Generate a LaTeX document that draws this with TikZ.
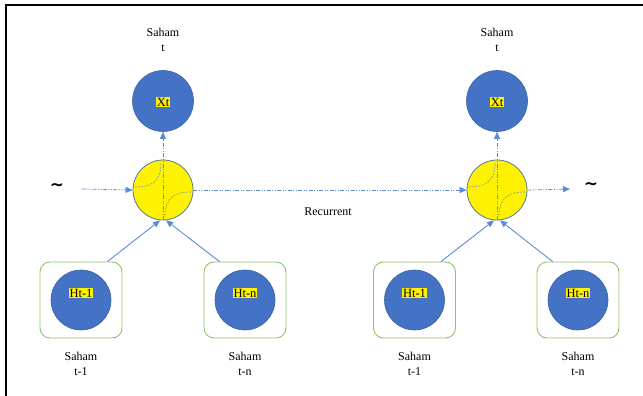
\documentclass[tikz,border=0pt]{standalone}
\usepackage{fontspec}
\setmainfont{Liberation Serif}
\newfontfamily\markfont{DejaVu Sans}
\usetikzlibrary{arrows.meta,calc}

\definecolor{cellblue}{HTML}{4472C4}
\definecolor{celledge}{HTML}{3A62A8}
\definecolor{gateedge}{HTML}{5A7896}
\definecolor{flowblue}{HTML}{5B8BD6}
\definecolor{boxgreen}{HTML}{8CC46A}
\definecolor{curvegray}{HTML}{8A9AAA}

\tikzset{
  txt/.style={font=\fontsize{12}{15}\selectfont, align=center, inner sep=0pt},
  bluecell/.style={circle, fill=cellblue, draw=celledge, line width=0.6pt, minimum size=61pt, inner sep=0pt},
  gate/.style={circle, fill=yellow, draw=gateedge, line width=0.8pt, minimum size=60pt, inner sep=0pt},
  statebox/.style={draw=boxgreen, line width=0.9pt, rounded corners=10pt, minimum width=82pt, minimum height=76pt, inner sep=0pt},
  tag/.style={fill=yellow, font=\fontsize{12.5}{14}\selectfont, inner sep=0.6pt},
  tip/.style={-{Triangle[length=7pt,width=6pt]}},
  flow/.style={draw=flowblue, line width=0.8pt, dash pattern=on 4pt off 1.5pt on 1pt off 1.5pt on 1pt off 1.5pt, tip},
  feed/.style={draw=flowblue, line width=0.9pt, tip},
  inner/.style={draw=curvegray, line width=0.7pt, dash pattern=on 2pt off 1.2pt},
  tildemark/.style={font=\markfont\bfseries\fontsize{17}{17}\selectfont, inner sep=0pt}
}

\begin{document}
\begin{tikzpicture}[x=1pt, y=-1pt]
  \useasboundingbox (0,0) rectangle (643,396);

  % frame edges
  \draw[black, line width=1.6pt] (6,396) -- (6,5) -- (643,5);

  % one time step drawn at each horizontal offset
  \foreach \cx/\ax/\bx/\sfx in {163/81/245/l, 497/414.5/578/r} {
    \node[bluecell] (x\sfx) at (\cx,101) {};
    \node[tag] (xt\sfx) at (\cx,102) {Xt};
    \node[txt] (sx\sfx) at (\cx,40) {Saham\\t};

    \node[gate] (g\sfx) at (\cx,190) {};
    \draw[inner] ($(g\sfx.center)+(-28,-3)$) .. controls ($(g\sfx.center)+(-12,-3)$) and ($(g\sfx.center)+(-2,-8)$) .. ($(g\sfx.center)+(-2,-27)$);
    \draw[inner] ($(g\sfx.center)+(28,2)$) .. controls ($(g\sfx.center)+(12,2)$) and ($(g\sfx.center)+(2,7)$) .. ($(g\sfx.center)+(2,27)$);
    \draw[flow] (g\sfx.south) -- (x\sfx.south);

    \node[statebox] (ba\sfx) at (\ax,300) {};
    \node[bluecell, minimum size=60pt] (ha\sfx) at (\ax,300) {};
    \node[tag] (hta\sfx) at (\ax,293) {Ht-1};
    \node[txt] (sa\sfx) at (\ax,364) {Saham\\t-1};

    \node[statebox] (bb\sfx) at (\bx,300) {};
    \node[bluecell, minimum size=60pt] (hb\sfx) at (\bx,300) {};
    \node[tag] (htb\sfx) at (\bx,293) {Ht-n};
    \node[txt] (sb\sfx) at (\bx,364) {Saham\\t-n};

    \draw[feed] ([xshift=-15pt]ba\sfx.north east) -- ([xshift=-3pt]g\sfx.south);
    \draw[feed] ([xshift=16pt]bb\sfx.north west) -- ([xshift=3pt]g\sfx.south);
  }

  % sequence continues on both sides
  \node[tildemark] (tl) at (57,187) {\char`\~};
  \node[tildemark] (tr) at (591,186) {\char`\~};
  \coordinate (inl) at (82,189);
  \coordinate (outr) at (570,189);

  \draw[flow] (inl) -- (gl.west);
  \draw[flow] (gl.east) -- (gr.west);
  \draw[flow] (gr.east) -- (outr);

  \node[txt] (rec) at (328,212) {Recurrent};
\end{tikzpicture}
\end{document}
